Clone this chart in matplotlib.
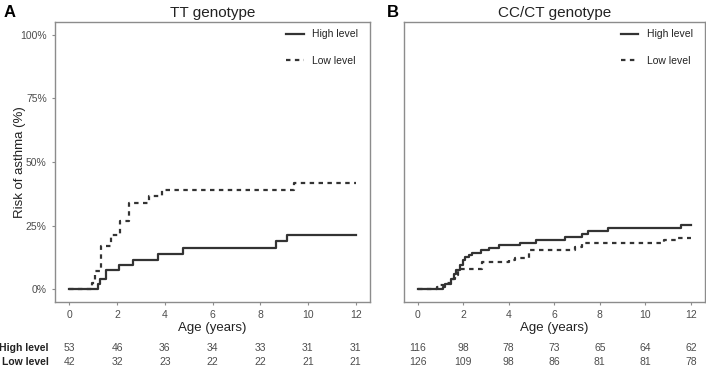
import matplotlib
matplotlib.use("Agg")
import matplotlib.pyplot as plt
import matplotlib.transforms as mtransforms

plt.rcParams['font.family'] = ['Liberation Sans', 'DejaVu Sans']

# Datos (edad en anos, riesgo en %)
tt_high_t = [0, 1.2, 1.3, 1.55, 2.1, 2.67, 3.73, 4.76, 8.66, 9.12, 12]
tt_high_y = [0, 1.9, 3.8, 7.7, 9.6, 11.6, 14.0, 16.3, 18.9, 21.4, 21.4]
tt_low_t = [0, 0.95, 1.09, 1.34, 1.75, 2.14, 2.49, 3.33, 3.89, 9.4, 12]
tt_low_y = [0, 2.4, 7.2, 16.9, 21.2, 26.7, 33.8, 36.5, 39.1, 41.8, 41.8]

cc_high_t = [0, 1.1, 1.2, 1.45, 1.6, 1.7, 1.85, 2.0, 2.1, 2.24, 2.41, 2.78, 3.14,
             3.58, 4.48, 5.22, 6.49, 7.21, 7.47, 8.38, 11.55, 12]
cc_high_y = [0, 1.0, 2.2, 4.0, 5.8, 7.5, 9.5, 11.4, 12.8, 13.5, 14.3, 15.2, 16.2,
             17.2, 18.3, 19.3, 20.5, 21.8, 22.9, 24.1, 25.4, 25.4]
cc_low_t = [0, 0.84, 1.0, 1.25, 1.5, 1.65, 1.76, 1.9, 2.82, 4.01, 4.3, 4.89,
            6.92, 7.21, 10.82, 11.36, 12]
cc_low_y = [0, 0.8, 1.6, 2.4, 4.0, 5.6, 7.0, 8.1, 10.7, 11.4, 12.4, 15.3,
            16.6, 18.3, 19.2, 20.3, 20.3]

# Tabla de riesgo
risk_times = [0, 2, 4, 6, 8, 10, 12]
tt_high_n = [53, 46, 36, 34, 33, 31, 31]
tt_low_n = [42, 32, 23, 22, 22, 21, 21]
cc_high_n = [116, 98, 78, 73, 65, 64, 62]
cc_low_n = [126, 109, 98, 86, 81, 81, 78]

line_col = "#333333"
tick_col = "#4d4d4d"

fig = plt.figure(figsize=(7.06, 3.69), dpi=100)
ax1 = fig.add_axes([0.078, 0.182, 0.446, 0.758])
ax2 = fig.add_axes([0.572, 0.182, 0.426, 0.758])

panels = [
    (ax1, "TT genotype", tt_high_t, tt_high_y, tt_low_t, tt_low_y, tt_high_n, tt_low_n),
    (ax2, "CC/CT genotype", cc_high_t, cc_high_y, cc_low_t, cc_low_y, cc_high_n, cc_low_n),
]

for ax, title, ht, hy, lt, ly, hn, ln in panels:
    ax.step(ht, [v / 100 for v in hy], where="post", color=line_col, lw=1.6,
            label="High level")
    ax.step(lt, [v / 100 for v in ly], where="post", color=line_col, lw=1.6,
            linestyle=(0, (2, 2)), label="Low level")
    ax.set_xlim(-0.6, 12.6)
    ax.set_ylim(-0.05, 1.05)
    ax.set_xticks(risk_times)
    ax.set_yticks([0, 0.25, 0.5, 0.75, 1.0])
    ax.set_title(title, fontsize=11, color="#222222", pad=4)
    ax.set_xlabel("Age (years)", fontsize=9.5, color="#222222", labelpad=1)
    for s in ax.spines.values():
        s.set_color("#8c8c8c")
        s.set_linewidth(1.0)
    ax.tick_params(colors="#8c8c8c", labelcolor=tick_col, labelsize=7.5, length=2.5)
    leg = ax.legend(loc="upper right", bbox_to_anchor=(0.985, 1.0), frameon=False,
                    fontsize=7.5, handlelength=1.7, labelspacing=1.6,
                    borderaxespad=0.3)
    for txt in leg.get_texts():
        txt.set_color("#222222")

    trans = mtransforms.blended_transform_factory(ax.transData, fig.transFigure)
    for t, a, b in zip(risk_times, hn, ln):
        fig.text(t, 1 - 348 / 369, str(a), transform=trans, ha="center",
                 va="center", fontsize=7.5, color=tick_col)
        fig.text(t, 1 - 362 / 369, str(b), transform=trans, ha="center",
                 va="center", fontsize=7.5, color=tick_col)

ax1.set_yticklabels(["0%", "25%", "50%", "75%", "100%"])
ax1.set_ylabel("Risk of asthma (%)", fontsize=9.5, color="#222222", labelpad=-4)
ax2.set_yticklabels([])
ax2.tick_params(axis="y", length=0)

fig.text(0.069, 1 - 348 / 369, "High level", ha="right", va="center",
         fontsize=7.5, fontweight="bold", color="#222222")
fig.text(0.069, 1 - 362 / 369, "Low level", ha="right", va="center",
         fontsize=7.5, fontweight="bold", color="#222222")

fig.text(0.005, 0.965, "A", fontsize=12, fontweight="bold", va="center")
fig.text(0.548, 0.965, "B", fontsize=12, fontweight="bold", va="center")

plt.savefig("out.png", dpi=100)
